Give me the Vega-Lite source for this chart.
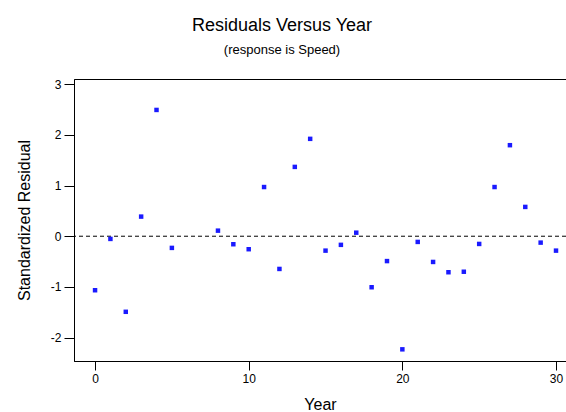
{
  "$schema": "https://vega.github.io/schema/vega-lite/v6.json",
  "width": 492,
  "height": 282,
  "autosize": {"type": "none"},
  "padding": {"left": 74, "top": 79, "right": 0, "bottom": 51},
  "background": "white",
  "title": {
    "text": "Residuals Versus Year",
    "subtitle": "(response is Speed)",
    "anchor": "middle",
    "frame": "group",
    "dx": -38,
    "font": "Liberation Sans",
    "fontSize": 18,
    "fontWeight": "normal",
    "color": "black",
    "subtitleFont": "Liberation Sans",
    "subtitleFontSize": 13,
    "subtitleColor": "black",
    "subtitlePadding": 9,
    "offset": 21
  },
  "config": {
    "view": {"stroke": "black", "strokeWidth": 1},
    "axis": {
      "grid": false,
      "domainColor": "black",
      "tickColor": "black",
      "labelColor": "black",
      "titleColor": "black",
      "labelFont": "Liberation Sans",
      "titleFont": "Liberation Sans",
      "labelFontSize": 12,
      "titleFontSize": 16,
      "titleFontWeight": "normal",
      "tickSize": 10,
      "labelPadding": 3
    }
  },
  "data": {
    "values": [
      {"Year": 0, "Residual": -1.065},
      {"Year": 1, "Residual": -0.053},
      {"Year": 2, "Residual": -1.49},
      {"Year": 3, "Residual": 0.387},
      {"Year": 4, "Residual": 2.49},
      {"Year": 5, "Residual": -0.23},
      {"Year": 8, "Residual": 0.11},
      {"Year": 9, "Residual": -0.158},
      {"Year": 10, "Residual": -0.256},
      {"Year": 11, "Residual": 0.97},
      {"Year": 12, "Residual": -0.645},
      {"Year": 13, "Residual": 1.367},
      {"Year": 14, "Residual": 1.92},
      {"Year": 15, "Residual": -0.284},
      {"Year": 16, "Residual": -0.17},
      {"Year": 17, "Residual": 0.07},
      {"Year": 18, "Residual": -1.006},
      {"Year": 19, "Residual": -0.49},
      {"Year": 20, "Residual": -2.23},
      {"Year": 21, "Residual": -0.112},
      {"Year": 22, "Residual": -0.507},
      {"Year": 23, "Residual": -0.71},
      {"Year": 24, "Residual": -0.70},
      {"Year": 25, "Residual": -0.152},
      {"Year": 26, "Residual": 0.97},
      {"Year": 27, "Residual": 1.795},
      {"Year": 28, "Residual": 0.578},
      {"Year": 29, "Residual": -0.126},
      {"Year": 30, "Residual": -0.284}
    ]
  },
  "layer": [
    {
      "data": {"values": [{"ref": 0}]},
      "mark": {"type": "rule", "color": "black", "strokeWidth": 1, "strokeDash": [4, 3]},
      "encoding": {
        "y": {"field": "ref", "type": "quantitative"}
      }
    },
    {
      "mark": {"type": "square", "filled": true, "size": 20, "color": "#1a1aff", "opacity": 1},
      "encoding": {
        "x": {
          "field": "Year",
          "type": "quantitative",
          "title": "Year",
          "scale": {"domain": [-1.37, 30.65], "nice": false, "zero": false},
          "axis": {"values": [0, 10, 20, 30], "tickSize": 9, "titlePadding": 12, "labelExpr": "'' + datum.value"}
        },
        "y": {
          "field": "Residual",
          "type": "quantitative",
          "title": "Standardized Residual",
          "scale": {"domain": [-2.46, 3.1], "nice": false, "zero": false},
          "axis": {"values": [-2, -1, 0, 1, 2, 3], "titlePadding": 18, "labelExpr": "'' + datum.value"}
        }
      }
    }
  ]
}
